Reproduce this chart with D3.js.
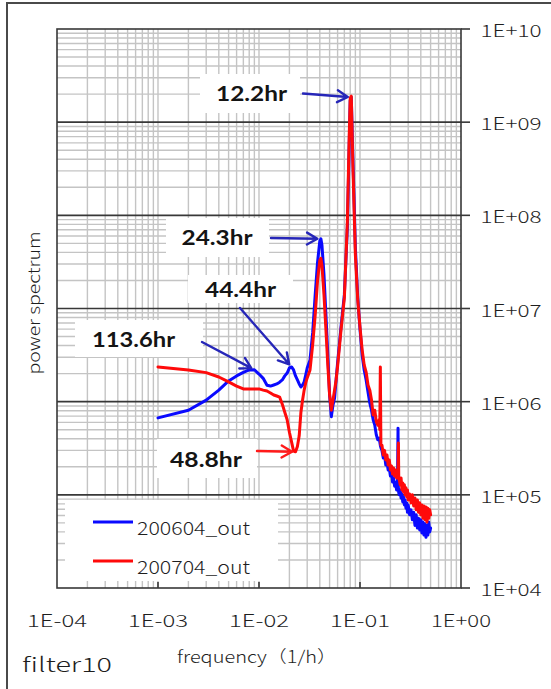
<!DOCTYPE html>
<html>
<head>
<meta charset="utf-8">
<script src="https://cdn.jsdelivr.net/npm/d3@7"></script>
<style>
  html, body { margin: 0; padding: 0; background: #ffffff; }
  svg { display: block; }
</style>
</head>
<body>
<svg id="chart" width="551" height="689"></svg>
<script>
// ---- spectrum data: frequency (1/h) and power for two periods ----
const freqLow = [0.001, 0.002, 0.003, 0.004, 0.005, 0.006, 0.007, 0.008, 0.009, 0.010,
                 0.011, 0.012, 0.013, 0.014, 0.015, 0.016, 0.017, 0.018, 0.019, 0.020,
                 0.021, 0.022, 0.023, 0.024, 0.025, 0.026, 0.027, 0.028, 0.029, 0.030];
const blueLow = [6.7e5, 8.1e5, 1.04e6, 1.33e6, 1.67e6, 1.89e6, 2.06e6, 2.19e6, 2.2e6, 1.98e6,
                 1.78e6, 1.5e6, 1.47e6, 1.51e6, 1.55e6, 1.62e6, 1.71e6, 1.89e6, 2.03e6, 2.3e6,
                 2.36e6, 2.19e6, 1.89e6, 1.71e6, 1.55e6, 1.44e6, 1.51e6, 1.63e6, 1.93e6, 2.3e6];
const redLow  = [2.36e6, 2.19e6, 2.05e6, 1.84e6, 1.63e6, 1.47e6, 1.37e6, 1.37e6, 1.37e6, 1.37e6,
                 1.33e6, 1.30e6, 1.24e6, 1.18e6, 1.15e6, 1.12e6, 9.4e5, 7.7e5, 6.4e5, 4.7e5,
                 3.7e5, 2.95e5, 2.9e5, 3.3e5, 4.3e5, 7.7e5, 1.04e6, 1.33e6, 1.59e6, 1.80e6];

const freqMid = [0.032, 0.034, 0.036, 0.038, 0.040, 0.041, 0.042, 0.044, 0.046, 0.048,
                 0.050, 0.052, 0.054, 0.056, 0.058, 0.060, 0.065, 0.070, 0.075, 0.078,
                 0.080, 0.082, 0.085, 0.090, 0.095, 0.100];
const blueMid = [2.8e6, 5.5e6, 1.4e7, 3.15e7, 5.3e7, 5.6e7, 4.8e7, 2.29e7, 8.5e6, 3.17e6,
                 1.18e6, 6.9e5, 9.2e5, 1.09e6, 1.71e6, 2.6e6, 6.5e6, 1.4e7, 7.5e7, 5.0e8,
                 1.7e9, 1.85e9, 4.2e8, 4.5e7, 1.3e7, 6.0e6];
const redMid  = [2.19e6, 4.1e6, 8.5e6, 2.0e7, 3.3e7, 3.45e7, 2.9e7, 1.4e7, 5.9e6, 2.48e6,
                 1.18e6, 8.1e5, 1.04e6, 1.33e6, 1.71e6, 2.4e6, 6.0e6, 1.3e7, 8.5e7, 6.4e8,
                 1.82e9, 1.9e9, 3.5e8, 3.75e7, 1.23e7, 6.3e6];

const freqTail = [0.105, 0.110, 0.115, 0.120, 0.125, 0.130, 0.135, 0.140, 0.145, 0.150,
                  0.155, 0.157, 0.159, 0.161, 0.165, 0.170, 0.175, 0.180, 0.185, 0.190,
                  0.195, 0.200, 0.205, 0.210, 0.215, 0.220, 0.225, 0.230, 0.235, 0.238,
                  0.240, 0.242, 0.245, 0.250, 0.255, 0.260, 0.265, 0.270, 0.275, 0.280,
                  0.285, 0.290, 0.295, 0.300, 0.31, 0.32, 0.33, 0.34, 0.35, 0.36,
                  0.37, 0.38, 0.39, 0.40, 0.41, 0.42, 0.43, 0.44, 0.45, 0.46,
                  0.47, 0.48, 0.49, 0.50];
const blueTail = [3.17e6, 2.19e6, 1.71e6, 1.27e6, 9.7e5, 8.1e5, 6.4e5, 5.6e5, 4.4e5, 3.9e5,
                  4.07e5, 3.7e5, 3.4e5, 3.2e5, 3.0e5, 2.49e5, 2.68e5, 2.09e5, 2.25e5, 1.85e5,
                  1.94e5, 1.59e5, 1.76e5, 1.37e5, 1.52e5, 1.24e5, 1.37e5, 1.13e5, 1.24e5, 5.2e5,
                  1.13e5, 1.05e5, 1.0e5, 1.13e5, 9.25e4, 1.02e5, 8.4e4, 9.5e4, 7.8e4, 8.8e4,
                  7.2e4, 8.2e4, 6.5e4, 7.8e4, 6.1e4, 6.9e4, 5.4e4, 6.5e4, 4.7e4, 6.1e4,
                  4.4e4, 5.6e4, 4.2e4, 5.4e4, 3.9e4, 5.1e4, 3.7e4, 4.9e4, 3.5e4, 4.7e4,
                  3.7e4, 5.1e4, 4.0e4, 4.4e4];
const redTail  = [3.6e6, 2.48e6, 2.08e6, 1.51e6, 1.33e6, 1.04e6, 7.2e5, 8.1e5, 6.1e5, 5.6e5,
                  6.4e5, 5.0e5, 2.36e6, 3.4e5, 3.4e5, 2.68e5, 3.0e5, 2.37e5, 2.68e5, 2.09e5,
                  2.37e5, 1.85e5, 2.04e5, 1.67e5, 1.94e5, 1.59e5, 1.85e5, 1.52e5, 1.76e5, 1.85e5,
                  3.6e5, 1.52e5, 1.44e5, 1.28e5, 1.52e5, 1.13e5, 1.34e5, 1.07e5, 1.28e5, 1.0e5,
                  1.19e5, 9.5e4, 1.13e5, 8.8e4, 1.02e5, 8.2e4, 1.0e5, 7.6e4, 9.25e4, 6.9e4,
                  8.8e4, 6.5e4, 8.2e4, 6.1e4, 7.8e4, 5.6e4, 7.6e4, 5.4e4, 7.4e4, 5.1e4,
                  7.2e4, 5.6e4, 6.9e4, 6.1e4];

const seriesNames = ["200604_out", "200704_out"];

// axis ticks
const xTickValues = [1e-4, 1e-3, 1e-2, 1e-1, 1];
const xTickLabels = ["1E-04", "1E-03", "1E-02", "1E-01", "1E+00"];
const yTickValues = [1e4, 1e5, 1e6, 1e7, 1e8, 1e9, 1e10];
const yTickLabels = ["1E+04", "1E+05", "1E+06", "1E+07", "1E+08", "1E+09", "1E+10"];

// peak annotations: label, series index of the marked point, its frequency
const peakLabels = ["12.2hr", "24.3hr", "44.4hr", "113.6hr", "48.8hr"];
const peakSeries = [0, 0, 0, 0, 1];
const peakFreqs  = [0.082, 0.041, 0.021, 0.009, 0.023];

// ---- build ----
const freqAll = freqLow.concat(freqMid, freqTail);
const series = [
  { name: seriesNames[0], color: "#0a0aff", values: blueLow.concat(blueMid, blueTail) },
  { name: seriesNames[1], color: "#ff0a0a", values: redLow.concat(redMid, redTail) }
];

const svg = d3.select("#chart");
const plot = { left: 57, right: 461, top: 29, bottom: 588 };

const x = d3.scaleLog().domain([1e-4, 1]).range([plot.left, plot.right]);
const y = d3.scaleLog().domain([1e4, 1e10]).range([plot.bottom, plot.top]);

const tickFont = "'Noto Sans CJK JP', 'Noto Sans', sans-serif";
const tickWeight = 300;

// outer frame
svg.append("rect")
  .attr("x", 7).attr("y", 3).attr("width", 620).attr("height", 720)
  .attr("fill", "#ffffff").attr("stroke", "#4a4a4a").attr("stroke-width", 2);

// grid
const isDecade = v => Math.abs(Math.log10(v) - Math.round(Math.log10(v))) < 1e-9;
const grid = svg.append("g");

grid.selectAll("line.vx")
  .data(x.ticks().filter(v => v > 1e-4 && v < 1))
  .join("line")
  .attr("x1", d => x(d)).attr("x2", d => x(d))
  .attr("y1", plot.top).attr("y2", plot.bottom)
  .attr("stroke", "#c4c4c4").attr("stroke-width", 1.4);

const yTicksAll = y.ticks().filter(v => v > 1e4 && v < 1e10);
grid.selectAll("line.hy")
  .data(yTicksAll.filter(v => !isDecade(v)))
  .join("line")
  .attr("x1", plot.left).attr("x2", plot.right)
  .attr("y1", d => y(d)).attr("y2", d => y(d))
  .attr("stroke", "#c4c4c4").attr("stroke-width", 1.4);

grid.selectAll("line.hmaj")
  .data(yTicksAll.filter(isDecade))
  .join("line")
  .attr("x1", plot.left).attr("x2", plot.right)
  .attr("y1", d => y(d)).attr("y2", d => y(d))
  .attr("stroke", "#383838").attr("stroke-width", 1.6);

// white label boxes laid over the grid
const labelLayout = [
  { box: [200, 74, 300, 113], tx: 251.5, ty: 101, w: 71, from: [303, 93.5] },
  { box: [166, 218, 269, 257], tx: 217, ty: 245, w: 71, from: [271, 238] },
  { box: [188, 275, 293, 303], tx: 240.5, ty: 296.5, w: 71, from: [240, 308] },
  { box: [75, 320, 203, 357], tx: 133.5, ty: 346.5, w: 83, from: [202, 342] },
  { box: [157, 439, 257, 478], tx: 206, ty: 467, w: 72, from: [257, 451] }
];
const legendBox = [65, 500, 278, 581];

svg.append("g").selectAll("rect")
  .data(labelLayout.map(d => d.box).concat([legendBox]))
  .join("rect")
  .attr("x", d => d[0]).attr("y", d => d[1])
  .attr("width", d => d[2] - d[0]).attr("height", d => d[3] - d[1])
  .attr("fill", "#ffffff");

// plot border
svg.append("rect")
  .attr("x", plot.left).attr("y", plot.top)
  .attr("width", plot.right - plot.left).attr("height", plot.bottom - plot.top)
  .attr("fill", "none").attr("stroke", "#383838").attr("stroke-width", 1.6);

// right-hand value axis
const yAxis = svg.append("g");
yAxis.selectAll("line")
  .data(yTickValues)
  .join("line")
  .attr("x1", plot.right).attr("x2", plot.right + 9)
  .attr("y1", d => y(d)).attr("y2", d => y(d))
  .attr("stroke", "#383838").attr("stroke-width", 1.6);
yAxis.selectAll("text")
  .data(yTickValues)
  .join("text")
  .attr("x", 480.5).attr("y", d => y(d) + 8)
  .attr("textLength", 61).attr("lengthAdjust", "spacingAndGlyphs")
  .attr("font-family", tickFont).attr("font-weight", tickWeight)
  .attr("font-size", 17).attr("fill", "#1e1e1e")
  .text((d, i) => yTickLabels[i]);

// bottom frequency axis
const xAxis = svg.append("g");
xAxis.selectAll("line")
  .data(xTickValues.filter(v => v > 1e-4 && v < 1))
  .join("line")
  .attr("x1", d => x(d)).attr("x2", d => x(d))
  .attr("y1", plot.bottom).attr("y2", plot.bottom - 6)
  .attr("stroke", "#383838").attr("stroke-width", 1.6);
xAxis.selectAll("text")
  .data(xTickValues)
  .join("text")
  .attr("x", d => x(d)).attr("y", 627)
  .attr("text-anchor", "middle")
  .attr("textLength", 60).attr("lengthAdjust", "spacingAndGlyphs")
  .attr("font-family", tickFont).attr("font-weight", tickWeight)
  .attr("font-size", 17).attr("fill", "#1e1e1e")
  .text((d, i) => xTickLabels[i]);

// axis titles and caption
svg.append("text")
  .attr("transform", "translate(40,303) rotate(-90)")
  .attr("text-anchor", "middle")
  .attr("textLength", 143).attr("lengthAdjust", "spacingAndGlyphs")
  .attr("font-family", tickFont).attr("font-weight", tickWeight)
  .attr("font-size", 16).attr("fill", "#1e1e1e")
  .text("power spectrum");

svg.append("text")
  .attr("x", 177).attr("y", 663)
  .attr("textLength", 160).attr("lengthAdjust", "spacingAndGlyphs")
  .attr("font-family", tickFont).attr("font-weight", tickWeight)
  .attr("font-size", 17).attr("fill", "#1e1e1e")
  .text("frequency（1/h）");

svg.append("text")
  .attr("x", 22).attr("y", 672)
  .attr("textLength", 90).attr("lengthAdjust", "spacingAndGlyphs")
  .attr("font-family", tickFont).attr("font-weight", tickWeight)
  .attr("font-size", 20).attr("fill", "#1e1e1e")
  .text("filter10");

// spectrum lines
const line = d3.line()
  .x((d, i) => x(freqAll[i]))
  .y(d => y(d));

svg.append("g").selectAll("path")
  .data(series)
  .join("path")
  .attr("d", d => line(d.values))
  .attr("fill", "none")
  .attr("stroke", d => d.color)
  .attr("stroke-width", 3)
  .attr("stroke-linejoin", "round")
  .attr("stroke-linecap", "round");

// legend
const legend = svg.append("g");
series.forEach((s, i) => {
  const ly = 522 + i * 39;
  legend.append("line")
    .attr("x1", 93).attr("x2", 133).attr("y1", ly).attr("y2", ly)
    .attr("stroke", s.color).attr("stroke-width", 3);
  legend.append("text")
    .attr("x", 137).attr("y", ly + 13)
    .attr("textLength", 113).attr("lengthAdjust", "spacingAndGlyphs")
    .attr("font-family", tickFont).attr("font-weight", tickWeight)
    .attr("font-size", 18).attr("fill", "#1e1e1e")
    .text(s.name);
});

// peak annotations with arrows pointing at the marked spectrum values
const arrowColors = ["#2626b8", "#ff1a1a"];
const ann = svg.append("g");
peakLabels.forEach((label, i) => {
  const lay = labelLayout[i];
  const s = series[peakSeries[i]];
  const idx = freqAll.indexOf(peakFreqs[i]);
  const px = x(freqAll[idx]), py = y(s.values[idx]);
  const [fx, fy] = lay.from;
  const ang = Math.atan2(py - fy, px - fx);
  const gap = 3.5;
  const tx = px - gap * Math.cos(ang), ty = py - gap * Math.sin(ang);
  const hl = 12, hw = 0.52;
  const color = arrowColors[peakSeries[i]];
  const path = d3.path();
  path.moveTo(fx, fy); path.lineTo(tx, ty);
  path.moveTo(tx - hl * Math.cos(ang - hw), ty - hl * Math.sin(ang - hw));
  path.lineTo(tx, ty);
  path.lineTo(tx - hl * Math.cos(ang + hw), ty - hl * Math.sin(ang + hw));
  ann.append("path")
    .attr("d", path.toString())
    .attr("fill", "none").attr("stroke", color)
    .attr("stroke-width", 2.4).attr("stroke-linecap", "round").attr("stroke-linejoin", "round");
  ann.append("text")
    .attr("x", lay.tx).attr("y", lay.ty)
    .attr("text-anchor", "middle")
    .attr("textLength", lay.w).attr("lengthAdjust", "spacingAndGlyphs")
    .attr("font-family", "Lato, 'Open Sans', sans-serif").attr("font-weight", 700)
    .attr("font-size", 21).attr("fill", "#141414")
    .text(label);
});
</script>
</body>
</html>
